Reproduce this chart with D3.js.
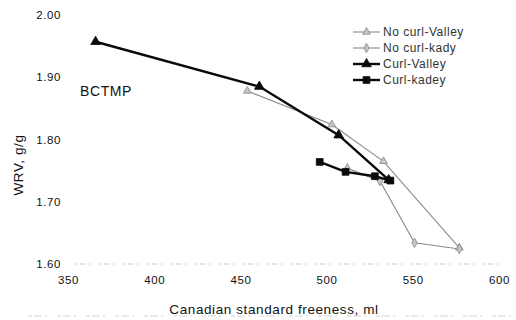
<!DOCTYPE html>
<html lang="en">
<head>
  <meta charset="UTF-8">
  <title>WRV vs CSF</title>
  <style>
    body { margin: 0; background: #fff; }
    .axis text {
      font-family: "Liberation Sans", Arial, sans-serif;
      font-size: 11.5px;
      fill: #111;
      letter-spacing: 0.6px;
    }
    .label {
      font-family: "Liberation Sans", Arial, sans-serif;
      fill: #111;
    }
  </style>
</head>
<body>
  <div id="chart"></div>
  <script src="https://d3js.org/d3.v7.min.js"></script>
  <script>
    // data
    var seriesNames = ['No curl-Valley', 'No curl-kady', 'Curl-Valley', 'Curl-kadey']
    var noCurlValleyX = [454, 503, 533, 577]
    var noCurlValleyY = [1.878, 1.824, 1.765, 1.626]
    var noCurlKadyX = [512, 531, 551, 577]
    var noCurlKadyY = [1.754, 1.733, 1.634, 1.624]
    var curlValleyX = [366, 461, 507, 536]
    var curlValleyY = [1.957, 1.885, 1.807, 1.735]
    var curlKadeyX = [496, 511, 528, 537]
    var curlKadeyY = [1.764, 1.748, 1.741, 1.734]
    var xTicks = [350, 400, 450, 500, 550, 600]
    var yTicks = [1.60, 1.70, 1.80, 1.90, 2.00]

    var width = 516
    var height = 320

    var svg = d3.select('#chart')
      .append('svg')
      .attr('width', width)
      .attr('height', height)

    var xScale = d3.scaleLinear()
      .domain([350, 600])
      .range([68, 499])
    var yScale = d3.scaleLinear()
      .domain([1.6, 2.0])
      .range([264, 15])

    var series = [
      { name: seriesNames[0], xs: noCurlValleyX, ys: noCurlValleyY, color: '#8a8a8a', width: 1.1, sym: d3.symbolTriangle, size: 26, fill: '#c4c4c4' },
      { name: seriesNames[1], xs: noCurlKadyX, ys: noCurlKadyY, color: '#8a8a8a', width: 1.1, sym: d3.symbolDiamond, size: 26, fill: '#c4c4c4' },
      { name: seriesNames[2], xs: curlValleyX, ys: curlValleyY, color: '#0a0a0a', width: 2.4, sym: d3.symbolTriangle, size: 40, fill: '#0a0a0a' },
      { name: seriesNames[3], xs: curlKadeyX, ys: curlKadeyY, color: '#0a0a0a', width: 2.4, sym: d3.symbolSquare, size: 46, fill: '#0a0a0a' }
    ]

    // faint scanned baseline
    svg.append('line')
      .attr('x1', xScale(354)).attr('x2', xScale(600))
      .attr('y1', yScale(1.6)).attr('y2', yScale(1.6))
      .attr('stroke', '#cfcfcf')
      .attr('stroke-width', 1)
      .attr('stroke-dasharray', '3,2,6,3,2,8')
    svg.append('line')
      .attr('x1', 28).attr('x2', 516)
      .attr('y1', 316).attr('y2', 316)
      .attr('stroke', '#d6d6d6')
      .attr('stroke-width', 1)
      .attr('stroke-dasharray', '4,2,8,3,2,10')

    var xAxis = d3.axisBottom(xScale)
      .tickValues(xTicks)
      .tickSize(0)
      .tickPadding(0)
      .tickFormat(d3.format('d'))
    var yAxis = d3.axisLeft(yScale)
      .tickValues(yTicks)
      .tickSize(0)
      .tickPadding(0)
      .tickFormat(d3.format('.2f'))

    var gx = svg.append('g')
      .attr('class', 'axis')
      .attr('transform', 'translate(0,276)')
      .call(xAxis)
    gx.select('.domain').remove()

    var gy = svg.append('g')
      .attr('class', 'axis')
      .attr('transform', 'translate(61,0)')
      .call(yAxis)
    gy.select('.domain').remove()

    var line = d3.line()
      .x(function (d) { return xScale(d[0]) })
      .y(function (d) { return yScale(d[1]) })

    series.forEach(function (s) {
      var pts = s.xs.map(function (x, i) { return [x, s.ys[i]] })
      svg.append('path')
        .datum(pts)
        .attr('d', line)
        .attr('fill', 'none')
        .attr('stroke', s.color)
        .attr('stroke-width', s.width)
      svg.selectAll(null)
        .data(pts)
        .enter()
        .append('path')
        .attr('d', d3.symbol().type(s.sym).size(s.size))
        .attr('transform', function (d) {
          return 'translate(' + xScale(d[0]) + ',' + yScale(d[1]) + ')'
        })
        .attr('fill', s.fill)
        .attr('stroke', s.color)
        .attr('stroke-width', 0.8)
    })

    // legend
    var legend = svg.append('g')
      .attr('transform', 'translate(353,32)')
    series.forEach(function (s, i) {
      var g = legend.append('g').attr('transform', 'translate(0,' + i * 16 + ')')
      g.append('line')
        .attr('x1', 0).attr('x2', 27)
        .attr('stroke', s.color)
        .attr('stroke-width', s.width)
      g.append('path')
        .attr('d', d3.symbol().type(s.sym).size(s.size))
        .attr('transform', 'translate(13.5,0)')
        .attr('fill', s.fill)
        .attr('stroke', s.color)
        .attr('stroke-width', 0.8)
      g.append('text')
        .attr('class', 'label')
        .attr('x', 30)
        .attr('dy', '0.35em')
        .style('font-size', '12px')
        .style('letter-spacing', '0.5px')
        .style('fill', '#333')
        .text(s.name)
    })

    svg.append('text')
      .attr('class', 'label')
      .attr('x', 80)
      .attr('y', 96)
      .style('font-size', '14px')
      .style('letter-spacing', '0.6px')
      .text('BCTMP')

    svg.append('text')
      .attr('class', 'label')
      .attr('x', 274)
      .attr('y', 314)
      .attr('text-anchor', 'middle')
      .style('font-size', '13.5px')
      .style('letter-spacing', '0.6px')
      .text('Canadian standard freeness, ml')

    svg.append('text')
      .attr('class', 'label')
      .attr('transform', 'translate(23,165) rotate(-90)')
      .attr('text-anchor', 'middle')
      .style('font-size', '13.5px')
      .style('letter-spacing', '0.6px')
      .text('WRV, g/g')
  </script>
</body>
</html>
